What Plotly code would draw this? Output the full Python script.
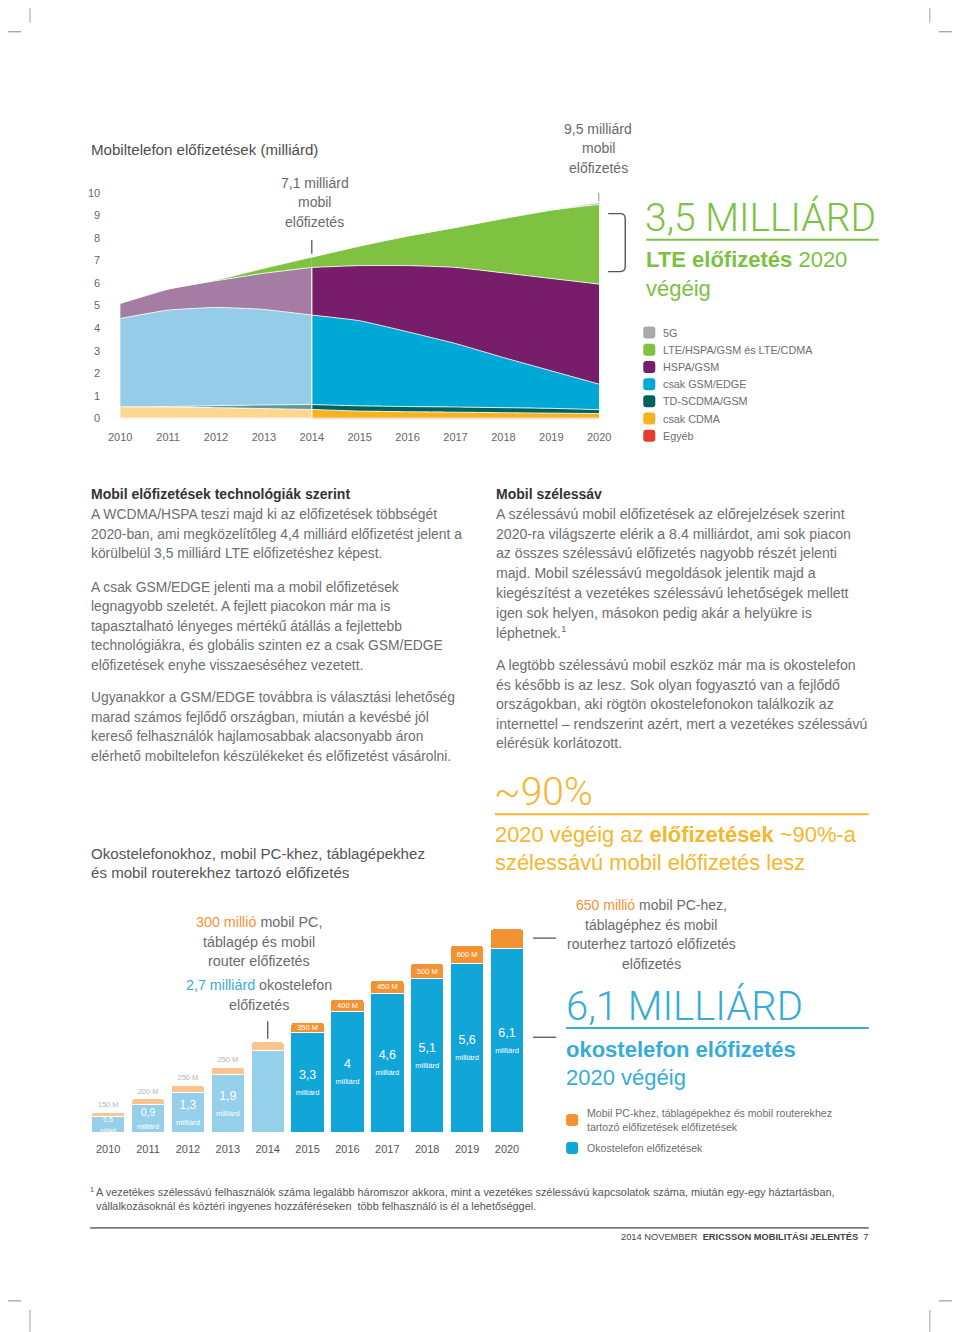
import plotly.graph_objects as go

W, H = 960, 1332

# ---------------- data: mobile subscriptions by technology (billion) ----------------
years = [2010, 2011, 2012, 2013, 2014, 2015, 2016, 2017, 2018, 2019, 2020]
egyeb = [0.02, 0.02, 0.02, 0.02, 0.02, 0.02, 0.02, 0.02, 0.02, 0.02, 0.02]
cdma = [0.50, 0.49, 0.46, 0.42, 0.38, 0.31, 0.28, 0.26, 0.24, 0.22, 0.20]
td_scdma = [0.00, 0.02, 0.09, 0.16, 0.22, 0.23, 0.23, 0.23, 0.22, 0.21, 0.17]
gsm_edge = [3.91, 4.27, 4.35, 4.23, 3.96, 3.77, 3.31, 2.81, 2.22, 1.66, 1.13]
hspa = [0.67, 0.93, 1.18, 1.60, 2.11, 2.44, 2.93, 3.37, 3.75, 4.09, 4.43]
lte = [0.00, 0.00, 0.03, 0.22, 0.46, 0.87, 1.31, 1.77, 2.41, 3.03, 3.53]
g5 = [0.00, 0.00, 0.00, 0.00, 0.00, 0.00, 0.00, 0.00, 0.00, 0.00, 0.08]
area_ticks = [0, 1, 2, 3, 4, 5, 6, 7, 8, 9, 10]
legend_names = ["5G", "LTE/HSPA/GSM és LTE/CDMA", "HSPA/GSM", "csak GSM/EDGE",
                "TD-SCDMA/GSM", "csak CDMA", "Egyéb"]

# ---------------- data: smartphone / mobile PC subscriptions ----------------
smart_bn = [0.5, 0.9, 1.3, 1.9, 2.7, 3.3, 4.0, 4.6, 5.1, 5.6, 6.1]
smart_labels = ["0,5", "0,9", "1,3", "1,9", "", "3,3", "4", "4,6", "5,1", "5,6", "6,1"]
pc_m = [150, 200, 250, 250, 300, 350, 400, 450, 500, 600, 650]
pc_labels = ["150 M", "200 M", "250 M", "250 M", "", "350 M", "400 M", "450 M", "500 M", "600 M", ""]

# colours
C = {"5G": "#a7a9ac", "LTE": "#7fc242", "HSPA": "#781d69", "GSM": "#00a8d5",
     "TD": "#00625c", "CDMA": "#f8b21f", "EGY": "#e63b2e"}
CL = {"5G": "#cfd0d2", "LTE": "#7fc242", "HSPA": "#a57ca3", "GSM": "#95cde9",
      "TD": "#5f9894", "CDMA": "#fdd68f", "EGY": "#fbe2da"}
BLUE, BLUE_L = "#12a5d8", "#95cfea"
ORANGE, ORANGE_L = "#f39233", "#fbc48f"
GREEN_T, BLUE_T, YELLOW_T = "#7dc142", "#36acd9", "#f5b630"

FONT = "Liberation Sans"
LIGHT = "Roboto"
GRAY = "#6d6e70"

# label font sizes inside the blue bars (style only)
LABEL_SIZE = [7, 10, 12, 12.5, 12.5, 12.5, 12.5, 12.5, 12.5, 12.5, 12.5]
UNIT_SIZE = [5, 7, 7.5, 7.5, 7.5, 7.5, 7.5, 7.5, 7.5, 7.5, 7.5]

# page-pixel -> paper mapping (compensates the offset/scale seen in the photographed page)
SX, OX = 0.973, 21.0
SY, OY = 0.9917, 13.2


def px(x):
    return ((x - OX) / SX) / W


def py(y):
    return 1 - ((y - OY) / SY) / H


fig = go.Figure()

# ---------------- area chart ----------------
layers = [("EGY", egyeb), ("CDMA", cdma), ("TD", td_scdma), ("GSM", gsm_edge),
          ("HSPA", hspa), ("LTE", lte)]
split = years.index(2014)
for key, vals in layers:
    fig.add_trace(go.Scatter(x=years[:split + 1], y=vals[:split + 1], stackgroup="hist",
                             mode="lines", line=dict(width=0.8, color="white", shape="spline", smoothing=0.4),
                             fillcolor=CL[key], xaxis="x", yaxis="y", hoverinfo="skip", showlegend=False))
for key, vals in layers + [("5G", g5)]:
    fig.add_trace(go.Scatter(x=years[split:], y=vals[split:], stackgroup="fc",
                             mode="lines", line=dict(width=0.8, color="white", shape="spline", smoothing=0.4),
                             fillcolor=C[key], xaxis="x", yaxis="y", hoverinfo="skip", showlegend=False))

# ---------------- bar chart ----------------
bar_blue = [BLUE_L if y <= 2014 else BLUE for y in years]
bar_orange = [ORANGE_L if y <= 2014 else ORANGE for y in years]
blue_text = [f"{l}<br><span style='font-size:{u}px'>milliárd</span>" if l else ""
             for l, u in zip(smart_labels, UNIT_SIZE)]
blue_pos = ["inside" if l else "none" for l in smart_labels]
fig.add_trace(go.Bar(x=years, y=smart_bn, xaxis="x2", yaxis="y2", marker=dict(color=bar_blue, line=dict(color="white", width=1)),
                     text=blue_text, textposition=blue_pos, insidetextanchor="middle", textangle=0, constraintext="none",
                     insidetextfont=dict(family=FONT, size=LABEL_SIZE, color="white"), hoverinfo="skip", showlegend=False))
pc_bn = [m / 1000 for m in pc_m]
pc_pos = [("none" if not l else ("outside" if y < 2014 else "inside")) for y, l in zip(years, pc_labels)]
fig.add_trace(go.Bar(x=years, y=pc_bn, xaxis="x2", yaxis="y2", marker=dict(color=bar_orange, line=dict(color="white", width=1)),
                     text=pc_labels, textposition=pc_pos, insidetextanchor="middle", textangle=0, constraintext="none",
                     insidetextfont=dict(family=FONT, size=7.5, color="white"),
                     outsidetextfont=dict(family=FONT, size=7.5, color="#b5b5b5"), cliponaxis=False,
                     hoverinfo="skip", showlegend=False))

ann = []
shapes = []


def text(x, y, s, size=14, color=GRAY, anchor="left", family=FONT, weight=None):
    f = dict(family=family, size=size, color=color)
    if weight:
        f["weight"] = weight
    ann.append(dict(x=px(x), y=py(y), xref="paper", yref="paper", text=s, showarrow=False,
                    xanchor=anchor, yanchor="middle", font=f, borderpad=0))


def hline(x0, x1, y, color, width=1.5):
    shapes.append(dict(type="line", xref="paper", yref="paper", x0=px(x0), x1=px(x1), y0=py(y), y1=py(y),
                       line=dict(color=color, width=width)))


def vline(x, y0, y1, color, width=1.2):
    shapes.append(dict(type="line", xref="paper", yref="paper", x0=px(x), x1=px(x), y0=py(y0), y1=py(y1),
                       line=dict(color=color, width=width)))


def rsquare(x0, y0, s, color, r=3):
    x1, y1 = x0 + s, y0 + s
    pts = [(x0 + r, y0), (x1 - r, y0), (x1, y0), (x1, y0 + r), (x1, y1 - r), (x1, y1), (x1 - r, y1),
           (x0 + r, y1), (x0, y1), (x0, y1 - r), (x0, y0 + r), (x0, y0), (x0 + r, y0)]
    P = [(px(a), py(b)) for a, b in pts]
    path = (f"M{P[0][0]},{P[0][1]} L{P[1][0]},{P[1][1]} Q{P[2][0]},{P[2][1]} {P[3][0]},{P[3][1]} "
            f"L{P[4][0]},{P[4][1]} Q{P[5][0]},{P[5][1]} {P[6][0]},{P[6][1]} L{P[7][0]},{P[7][1]} "
            f"Q{P[8][0]},{P[8][1]} {P[9][0]},{P[9][1]} L{P[10][0]},{P[10][1]} Q{P[11][0]},{P[11][1]} {P[12][0]},{P[12][1]} Z")
    shapes.append(dict(type="path", xref="paper", yref="paper", path=path, fillcolor=color, line=dict(width=0)))


# crop marks
for x in (31, 929):
    vline(x, 0, 22, "#888", 0.8)
    vline(x, 1310, 1332, "#888", 0.8)
for x0, x1 in ((0, 22), (938, 960)):
    hline(x0, x1, 31, "#888", 1)
    hline(x0, x1, 1301, "#888", 1)

# ----- top section texts -----
text(91, 149, "Mobiltelefon előfizetések (milliárd)", 15.1, "#4d4d4d")
for s, y in (("7,1 milliárd", 182), ("mobil", 201), ("előfizetés", 221)):
    text(315, y, s, 14, "#6a6a6a", "center")
for s, y in (("9,5 milliárd", 128), ("mobil", 147), ("előfizetés", 167)):
    text(598, y, s, 14, "#6a6a6a", "center")

# white divider at 2014 and annotation ticks (data coordinates)
i14 = years.index(2014)
purple_top_14 = egyeb[i14] + cdma[i14] + td_scdma[i14] + gsm_edge[i14] + hspa[i14]
total_14 = purple_top_14 + lte[i14]
total_20 = egyeb[-1] + cdma[-1] + td_scdma[-1] + gsm_edge[-1] + hspa[-1] + lte[-1] + g5[-1]
shapes.append(dict(type="line", xref="x", yref="y", x0=2014, x1=2014, y0=0, y1=purple_top_14,
                   line=dict(color="white", width=1.2)))
shapes.append(dict(type="line", xref="x", yref="y", x0=2014, x1=2014, y0=total_14 + 0.15, y1=total_14 + 0.75,
                   line=dict(color="#555", width=1.3)))
shapes.append(dict(type="line", xref="x", yref="y", x0=2020, x1=2020, y0=total_20 + 0.05, y1=total_20 + 0.7,
                   line=dict(color="#555", width=1.3)))
# bracket
bx0, bx1, by0, by1 = 608, 625, 213, 271
shapes.append(dict(type="path", xref="paper", yref="paper",
                   path=(f"M{px(bx0)},{py(by0)} L{px(bx1-5)},{py(by0)} Q{px(bx1)},{py(by0)} {px(bx1)},{py(by0+5)} "
                         f"L{px(bx1)},{py(by1-5)} Q{px(bx1)},{py(by1)} {px(bx1-5)},{py(by1)} L{px(bx0)},{py(by1)}"),
                   line=dict(color="#555", width=1.4)))

text(644, 217, "3,5 MILLIÁRD", 39, GREEN_T, family=LIGHT, weight=300)
hline(646, 878, 239, GREEN_T, 2)
text(645, 259, "<b>LTE előfizetés</b> 2020", 22, GREEN_T)
text(645, 288, "végéig", 22, GREEN_T)

leg_colors = [C["5G"], C["LTE"], C["HSPA"], C["GSM"], C["TD"], C["CDMA"], C["EGY"]]
for i, (name, col) in enumerate(zip(legend_names, leg_colors)):
    yc = 332 + i * 17.2
    rsquare(643, yc - 6, 12, col)
    text(662, yc, name, 10.8, GRAY)

# ----- body text -----
text(91, 494, "<b>Mobil előfizetések technológiák szerint</b>", 14, "#333")
left_lines = [
    (514, "A WCDMA/HSPA teszi majd ki az előfizetések többségét"),
    (534, "2020-ban, ami megközelítőleg 4,4 milliárd előfizetést jelent a"),
    (553, "körülbelül 3,5 milliárd LTE előfizetéshez képest."),
    (587, "A csak GSM/EDGE jelenti ma a mobil előfizetések"),
    (606, "legnagyobb szeletét. A fejlett piacokon már ma is"),
    (626, "tapasztalható lényeges mértékű átállás a fejlettebb"),
    (645, "technológiákra, és globális szinten ez a csak GSM/EDGE"),
    (665, "előfizetések enyhe visszaeséséhez vezetett."),
    (697, "Ugyanakkor a GSM/EDGE továbbra is választási lehetőség"),
    (717, "marad számos fejlődő országban, miután a kevésbé jól"),
    (736, "kereső felhasználók hajlamosabbak alacsonyabb áron"),
    (756, "elérhető mobiltelefon készülékeket és előfizetést vásárolni."),
]
for y, s in left_lines:
    text(91, y, s, 13.85, GRAY)

text(495, 494, "<b>Mobil szélessáv</b>", 14, "#333")
right_lines = [
    (514, "A szélessávú mobil előfizetések az előrejelzések szerint"),
    (534, "2020-ra világszerte elérik a 8.4 milliárdot, ami sok piacon"),
    (553, "az összes szélessávú előfizetés nagyobb részét jelenti"),
    (573, "majd. Mobil szélessávú megoldások jelentik majd a"),
    (593, "kiegészítést a vezetékes szélessávú lehetőségek mellett"),
    (613, "igen sok helyen, másokon pedig akár a helyükre is"),
    (632, "léphetnek.<sup>1</sup>"),
    (665, "A legtöbb szélessávú mobil eszköz már ma is okostelefon"),
    (685, "és később is az lesz. Sok olyan fogyasztó van a fejlődő"),
    (704, "országokban, aki rögtön okostelefonokon találkozik az"),
    (724, "internettel – rendszerint azért, mert a vezetékes szélessávú"),
    (743, "elérésük korlátozott."),
]
for y, s in right_lines:
    text(495, y, s, 14.1, GRAY)

text(493, 792, "~90%", 39, YELLOW_T, family=LIGHT, weight=300)
hline(495, 868, 814, YELLOW_T, 2)
text(494, 834, "2020 végéig az <b>előfizetések</b> ~90%-a", 21.9, YELLOW_T)
text(494, 862, "szélessávú mobil előfizetés lesz", 21.9, YELLOW_T)

text(91, 853, "Okostelefonokhoz, mobil PC-khez, táblagépekhez", 15.1, "#555")
text(91, 872, "és mobil routerekhez tartozó előfizetés", 15.1, "#555")

# ----- bar chart annotations -----
for s, y in ((f"<span style='color:{ORANGE}'>300 millió</span> mobil PC,", 922), ("táblagép és mobil", 942),
             ("router előfizetés", 961), (f"<span style='color:{BLUE_T}'>2,7 milliárd</span> okostelefon", 985),
             ("előfizetés", 1005)):
    text(260, y, s, 14.3, "#6a6a6a", "center")
top_14 = smart_bn[i14] + pc_bn[i14]
shapes.append(dict(type="line", xref="x2", yref="y2", x0=2014, x1=2014, y0=top_14 + 0.1, y1=top_14 + 0.68,
                   line=dict(color="#555", width=1.3)))
# leader lines from the 2020 bar
for yv in (smart_bn[-1] + pc_bn[-1] / 2 + 0.02, smart_bn[-1] / 2 + 0.1):
    shapes.append(dict(type="line", xref="paper", yref="y2", x0=px(533), x1=px(556), y0=yv, y1=yv,
                       line=dict(color="#555", width=1.3)))

for s, y in ((f"<span style='color:{ORANGE}'>650 millió</span> mobil PC-hez,", 905), ("táblagéphez és mobil", 925),
             ("routerhez tartozó előfizetés", 944), ("előfizetés", 964)):
    text(651, y, s, 14, "#6a6a6a", "center")
text(565, 1006, "6,1 MILLIÁRD", 40, BLUE_T, family=LIGHT, weight=300)
hline(566, 868, 1028, BLUE_T, 2)
text(565, 1049, "<b>okostelefon előfizetés</b>", 22, BLUE_T)
text(565, 1077, "2020 végéig", 22, BLUE_T)
rsquare(566, 1114, 12, ORANGE)
text(586, 1113, "Mobil PC-khez, táblagépekhez és mobil routerekhez", 10.6, GRAY)
text(586, 1127, "tartozó előfizetések előfizetések", 10.6, GRAY)
rsquare(566, 1142, 12, BLUE)
text(586, 1148, "Okostelefon előfizetések", 10.6, GRAY)

# ----- footnote / footer -----
text(90, 1190, "<sup>1</sup>", 10.5, "#555")
text(96, 1192, "A vezetékes szélessávú felhasználók száma legalább háromszor akkora, mint a vezetékes szélessávú kapcsolatok száma, miután egy-egy háztartásban,", 10.9, "#555")
text(96, 1206, "vállalkozásoknál és köztéri ingyenes hozzáféréseken  több felhasználó is él a lehetőséggel.", 10.9, "#555")
hline(91, 868, 1228, "#7a7a7a", 1.8)
text(868, 1237, "2014 NOVEMBER  <b>ERICSSON MOBILITÁSI JELENTÉS</b>  7", 9.3, "#444", "right")

# ---------------- layout ----------------
bar_step = 39.8
fig.update_layout(
    width=W, height=H, margin=dict(l=0, r=0, t=0, b=0),
    paper_bgcolor="white", plot_bgcolor="white",
    font=dict(family=FONT),
    barmode="stack", bargap=0.165, barcornerradius=3,
    showlegend=False,
    xaxis=dict(domain=[px(121), px(599)], range=[2010, 2020], anchor="y",
               tickvals=years, ticktext=[str(y) for y in years], showgrid=False, zeroline=False,
               showline=False, ticks="", tickfont=dict(size=11, color="#666"), ticklabelstandoff=10),
    yaxis=dict(domain=[py(418), py(192)], range=[0, 10], anchor="x",
               tickvals=area_ticks, ticktext=[str(t) for t in area_ticks], showgrid=False, zeroline=False,
               showline=False, ticks="", tickfont=dict(size=11, color="#666"), ticklabelstandoff=19),
    xaxis2=dict(domain=[px(109 - bar_step / 2), px(507 + bar_step / 2)], range=[2009.5, 2020.5], anchor="y2",
                tickvals=years, ticktext=[str(y) for y in years], showgrid=False, zeroline=False,
                showline=False, ticks="", tickfont=dict(size=11, color="#555"), ticklabelstandoff=9),
    yaxis2=dict(domain=[py(1132), py(1132 - 7 * 30.1)], range=[0, 7], anchor="x2",
                visible=False, showgrid=False, zeroline=False),
    annotations=ann, shapes=shapes,
)

fig.write_html("out.html")
